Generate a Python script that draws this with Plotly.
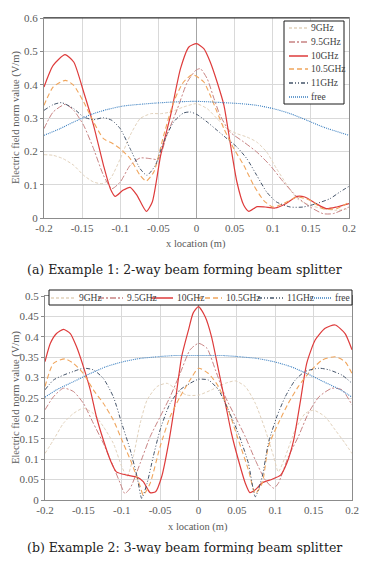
import plotly.graph_objects as go

# ---------------- data: (a) 2-way splitter ----------------
names = ["9GHz", "9.5GHz", "10GHz", "10.5GHz", "11GHz", "free"]

a_x_9 = [-0.2,-0.188,-0.175,-0.161,-0.148,-0.135,-0.124,-0.113,-0.1,-0.087,-0.074,-0.06,-0.047,-0.034,-0.017,0,0.014,0.027,0.04,0.053,0.066,0.079,0.092,0.105,0.119,0.132,0.149,0.166,0.184,0.2]
a_y_9 = [0.19,0.188,0.178,0.158,0.128,0.108,0.103,0.118,0.178,0.248,0.298,0.313,0.313,0.318,0.333,0.343,0.328,0.298,0.268,0.253,0.243,0.228,0.198,0.148,0.098,0.058,0.038,0.028,0.023,0.028]

a_x_95 = [-0.2,-0.188,-0.172,-0.161,-0.148,-0.135,-0.122,-0.111,-0.1,-0.087,-0.074,-0.06,-0.05,-0.039,-0.025,-0.012,-0.001,0.005,0.014,0.023,0.031,0.044,0.062,0.079,0.0965,0.114,0.132,0.149,0.166,0.179,0.2]
a_y_95 = [0.268,0.318,0.341,0.323,0.278,0.208,0.128,0.088,0.108,0.158,0.18,0.178,0.176,0.248,0.328,0.408,0.443,0.448,0.418,0.358,0.308,0.258,0.228,0.198,0.158,0.108,0.063,0.033,0.013,0.013,0.033]

a_x_10 = [-0.2,-0.188,-0.1724,-0.161,-0.148,-0.135,-0.122,-0.113,-0.1066,-0.0965,-0.087,-0.078,-0.0658,-0.058,-0.047,-0.034,-0.021,-0.010,0.0,0.0096,0.018,0.027,0.036,0.044,0.053,0.062,0.0686,0.0795,0.09,0.103,0.117,0.132,0.142,0.157,0.170,0.184,0.2]
a_y_10 = [0.393,0.458,0.49,0.468,0.378,0.278,0.158,0.088,0.065,0.083,0.092,0.068,0.02,0.048,0.188,0.308,0.448,0.513,0.523,0.508,0.468,0.408,0.338,0.228,0.108,0.038,0.02,0.034,0.033,0.03,0.043,0.065,0.063,0.043,0.028,0.033,0.043]

a_x_105 = [-0.2,-0.188,-0.172,-0.161,-0.148,-0.135,-0.122,-0.111,-0.1,-0.087,-0.074,-0.066,-0.056,-0.043,-0.03,-0.017,-0.005,0.0096,0.018,0.027,0.036,0.049,0.062,0.075,0.088,0.1,0.114,0.132,0.149,0.166,0.184,0.2]
a_y_105 = [0.338,0.393,0.413,0.398,0.348,0.288,0.238,0.225,0.208,0.178,0.128,0.111,0.138,0.248,0.348,0.408,0.43,0.408,0.368,0.318,0.268,0.208,0.158,0.098,0.053,0.033,0.043,0.063,0.053,0.028,0.028,0.048]

a_x_11 = [-0.2,-0.188,-0.177,-0.161,-0.148,-0.135,-0.122,-0.111,-0.1,-0.087,-0.074,-0.065,-0.054,-0.043,-0.03,-0.017,-0.008,0.001,0.014,0.027,0.04,0.053,0.066,0.079,0.092,0.105,0.123,0.14,0.157,0.175,0.188,0.2]
a_y_11 = [0.323,0.34,0.346,0.328,0.303,0.295,0.301,0.293,0.268,0.208,0.148,0.128,0.158,0.228,0.288,0.315,0.318,0.31,0.288,0.263,0.238,0.213,0.178,0.128,0.078,0.048,0.033,0.033,0.043,0.058,0.078,0.095]

a_x_free = [-0.2,-0.179,-0.161,-0.139,-0.118,-0.096,-0.074,-0.052,-0.03,0,0.036,0.058,0.079,0.101,0.123,0.145,0.166,0.2]
a_y_free = [0.248,0.268,0.288,0.31,0.325,0.336,0.341,0.345,0.348,0.35,0.346,0.343,0.338,0.328,0.313,0.293,0.273,0.248]

# ---------------- data: (b) 3-way splitter ----------------
b_x_9 = [-0.2,-0.189,-0.176,-0.163,-0.15,-0.137,-0.124,-0.111,-0.1,-0.093,-0.085,-0.076,-0.067,-0.054,-0.041,-0.028,-0.015,0,0.017,0.035,0.048,0.061,0.074,0.087,0.098,0.104,0.113,0.126,0.139,0.15,0.165,0.178,0.191,0.2]
b_y_9 = [0.114,0.147,0.188,0.212,0.225,0.212,0.18,0.139,0.082,0.057,0.106,0.188,0.245,0.278,0.286,0.27,0.257,0.257,0.27,0.286,0.292,0.278,0.237,0.172,0.106,0.069,0.106,0.172,0.212,0.22,0.204,0.172,0.139,0.114]

b_x_95 = [-0.2,-0.189,-0.176,-0.163,-0.15,-0.137,-0.124,-0.111,-0.102,-0.096,-0.089,-0.076,-0.063,-0.05,-0.037,-0.024,-0.011,0,0.011,0.022,0.035,0.048,0.061,0.074,0.087,0.098,0.104,0.117,0.13,0.143,0.157,0.174,0.187,0.2]
b_y_95 = [0.221,0.253,0.274,0.266,0.237,0.188,0.139,0.082,0.041,0.016,0.029,0.09,0.155,0.204,0.253,0.31,0.368,0.384,0.372,0.319,0.253,0.204,0.155,0.098,0.049,0.029,0.041,0.106,0.155,0.212,0.253,0.274,0.27,0.233]

b_x_10 = [-0.2,-0.193,-0.185,-0.176,-0.167,-0.159,-0.15,-0.141,-0.133,-0.124,-0.115,-0.107,-0.093,-0.08,-0.072,-0.063,-0.056,-0.048,-0.039,-0.03,-0.022,-0.013,-0.007,0,0.0087,0.017,0.026,0.035,0.043,0.052,0.061,0.067,0.074,0.083,0.096,0.107,0.115,0.124,0.133,0.141,0.152,0.165,0.178,0.191,0.2]
b_y_10 = [0.339,0.384,0.408,0.418,0.408,0.376,0.327,0.27,0.204,0.147,0.098,0.069,0.061,0.056,0.045,0.018,0.02,0.057,0.139,0.245,0.351,0.417,0.458,0.474,0.449,0.4,0.319,0.237,0.163,0.098,0.041,0.018,0.025,0.042,0.051,0.061,0.09,0.147,0.245,0.335,0.392,0.421,0.429,0.408,0.368]

b_x_105 = [-0.2,-0.189,-0.174,-0.163,-0.15,-0.137,-0.124,-0.111,-0.098,-0.087,-0.076,-0.072,-0.063,-0.05,-0.037,-0.024,-0.011,0,0.013,0.026,0.039,0.052,0.065,0.074,0.083,0.091,0.104,0.117,0.13,0.143,0.161,0.178,0.191,0.2]
b_y_105 = [0.278,0.335,0.346,0.335,0.31,0.27,0.237,0.196,0.139,0.09,0.033,0.012,0.041,0.131,0.204,0.253,0.294,0.323,0.31,0.278,0.22,0.147,0.074,0.016,0.041,0.131,0.188,0.237,0.278,0.31,0.343,0.351,0.339,0.31]

b_x_11 = [-0.2,-0.189,-0.176,-0.163,-0.15,-0.137,-0.124,-0.111,-0.1,-0.089,-0.08,-0.074,-0.067,-0.059,-0.05,-0.037,-0.024,-0.011,0,0.013,0.026,0.039,0.052,0.065,0.074,0.083,0.091,0.102,0.113,0.126,0.139,0.157,0.17,0.187,0.2]
b_y_11 = [0.27,0.294,0.306,0.315,0.323,0.319,0.298,0.253,0.188,0.123,0.057,0.004,0.041,0.106,0.172,0.237,0.27,0.286,0.296,0.294,0.27,0.22,0.163,0.09,0.008,0.057,0.139,0.204,0.253,0.294,0.315,0.323,0.319,0.306,0.286]

b_x_free = [-0.2,-0.185,-0.163,-0.141,-0.12,-0.098,-0.076,-0.054,-0.033,0,0.033,0.054,0.076,0.098,0.12,0.141,0.163,0.185,0.2]
b_y_free = [0.252,0.27,0.29,0.31,0.327,0.339,0.347,0.351,0.354,0.354,0.354,0.351,0.347,0.339,0.327,0.31,0.29,0.27,0.252]

x_ticks = [-0.2,-0.15,-0.1,-0.05,0,0.05,0.1,0.15,0.2]
x_ticktext = ["-0.2","-0.15","-0.1","-0.05","0","0.05","0.1","0.15","0.2"]
a_y_ticks = [0,0.1,0.2,0.3,0.4,0.5,0.6]
a_y_ticktext = ["0","0.1","0.2","0.3","0.4","0.5","0.6"]
b_y_ticks = [0,0.05,0.1,0.15,0.2,0.25,0.3,0.35,0.4,0.45,0.5]
b_y_ticktext = ["0","0.05","0.1","0.15","0.2","0.25","0.3","0.35","0.4","0.45","0.5"]

y_title = "Electric field norm value (V/m)"
x_title = "x location (m)"
caption_a = "(a) Example 1: 2-way beam forming beam splitter"
caption_b = "(b) Example 2: 3-way beam forming beam splitter"

# ---------------- styles ----------------
colors = ["#e2d2bc", "#c88383", "#de3b3b", "#f0a55c", "#44546a", "#3a7fc0"]
dashes = ["3px,2px", "6px,2px,2px,2px", "solid", "5px,3px", "4px,2px,1px,2px,1px,2px", "1px,1px"]
widths = [1, 1, 1.2, 1.1, 1, 1.1]

# page has an 8px body margin: figure occupies page px 8..359 x 8..554
OFF = 8
W, H = 351, 546
def px(x): return (x - OFF) / W
def py(y): return 1 - (y - OFF) / H

SERIF = "Liberation Serif, Times New Roman, serif"

fig = go.Figure()
a_series = [(a_x_9, a_y_9), (a_x_95, a_y_95), (a_x_10, a_y_10), (a_x_105, a_y_105), (a_x_11, a_y_11), (a_x_free, a_y_free)]
b_series = [(b_x_9, b_y_9), (b_x_95, b_y_95), (b_x_10, b_y_10), (b_x_105, b_y_105), (b_x_11, b_y_11), (b_x_free, b_y_free)]
for i, (xs, ys) in enumerate(a_series):
    fig.add_trace(go.Scatter(x=xs, y=ys, mode="lines", name=names[i], xaxis="x", yaxis="y",
                             line=dict(color=colors[i], dash=dashes[i], width=widths[i], shape="spline", smoothing=0.6),
                             showlegend=False))
for i, (xs, ys) in enumerate(b_series):
    fig.add_trace(go.Scatter(x=xs, y=ys, mode="lines", name=names[i], xaxis="x2", yaxis="y2",
                             line=dict(color=colors[i], dash=dashes[i], width=widths[i], shape="spline", smoothing=0.6),
                             showlegend=False))

tickfont = dict(family=SERIF, size=11, color="#595959")
titlefont = dict(family=SERIF, size=10.5, color="#595959")
common_x = dict(range=[-0.2, 0.2], tickvals=x_ticks, ticktext=x_ticktext, showgrid=True, gridcolor="#d9d9d9",
                zeroline=True, zerolinecolor="#a6a6a6", zerolinewidth=1, showline=True, linecolor="#8c8c8c",
                mirror=True, tickfont=tickfont, ticks="", automargin=False)
common_y = dict(showgrid=True, gridcolor="#d9d9d9", zeroline=False, showline=True, linecolor="#8c8c8c",
                mirror=True, tickfont=tickfont, ticks="outside", ticklen=3, tickcolor="#8c8c8c", automargin=False)

fig.update_layout(
    width=W, height=H, margin=dict(l=0, r=0, t=0, b=0, autoexpand=False),
    paper_bgcolor="white", plot_bgcolor="white", showlegend=False,
    xaxis=dict(domain=[px(44), px(349)], anchor="y", **common_x),
    yaxis=dict(domain=[py(218), py(18)], anchor="x", range=[0, 0.6], tickvals=a_y_ticks, ticktext=a_y_ticktext, **common_y),
    xaxis2=dict(domain=[px(45), px(352)], anchor="y2", **common_x),
    yaxis2=dict(domain=[py(500), py(296)], anchor="x2", range=[0, 0.5], tickvals=b_y_ticks, ticktext=b_y_ticktext, **common_y),
)

shapes = []
annotations = []
legfont = dict(family=SERIF, size=9.5, color="#404040")

# top border of plot (a) appears dark
shapes.append(dict(type="line", xref="paper", yref="paper", x0=px(44), x1=px(349), y0=py(18), y1=py(18),
                   line=dict(color="#333333", width=1), layer="above"))

# legend (a): vertical box
shapes.append(dict(type="rect", xref="paper", yref="paper", x0=px(284), x1=px(344), y0=py(104), y1=py(21),
                   line=dict(color="#1a1a1a", width=1), fillcolor="white", layer="above"))
rows_a = [28, 42, 56, 69, 83, 97]
for i, n in enumerate(names):
    shapes.append(dict(type="line", xref="paper", yref="paper", x0=px(289), x1=px(308), y0=py(rows_a[i]), y1=py(rows_a[i]),
                       line=dict(color=colors[i], dash=dashes[i], width=widths[i] + 0.3), layer="above"))
    annotations.append(dict(xref="paper", yref="paper", x=px(309), y=py(rows_a[i]), text=n, showarrow=False,
                            xanchor="left", yanchor="middle", font=legfont))

# legend (b): horizontal box
shapes.append(dict(type="rect", xref="paper", yref="paper", x0=px(49), x1=px(352), y0=py(305), y1=py(290),
                   line=dict(color="#1a1a1a", width=1), fillcolor="white", layer="above"))
seg_b = [(51, 75), (98, 123), (151, 173), (197, 222), (258, 283), (308, 331)]
txt_b = [77, 125, 175, 224, 285, 333]
for i, n in enumerate(names):
    shapes.append(dict(type="line", xref="paper", yref="paper", x0=px(seg_b[i][0]), x1=px(seg_b[i][1]), y0=py(298), y1=py(298),
                       line=dict(color=colors[i], dash=dashes[i], width=widths[i] + 0.3), layer="above"))
    annotations.append(dict(xref="paper", yref="paper", x=px(txt_b[i]), y=py(298), text=n, showarrow=False,
                            xanchor="left", yanchor="middle", font=legfont))

# axis titles
annotations.append(dict(xref="paper", yref="paper", x=px(196), y=py(244), text=x_title, showarrow=False,
                        xanchor="center", yanchor="middle", font=titlefont))
annotations.append(dict(xref="paper", yref="paper", x=px(198), y=py(527), text=x_title, showarrow=False,
                        xanchor="center", yanchor="middle", font=titlefont))
annotations.append(dict(xref="paper", yref="paper", x=px(16), y=py(118), text=y_title, showarrow=False, textangle=-90,
                        xanchor="center", yanchor="middle", font=titlefont))
annotations.append(dict(xref="paper", yref="paper", x=px(16), y=py(398), text=y_title, showarrow=False, textangle=-90,
                        xanchor="center", yanchor="middle", font=titlefont))

capfont = dict(family="DejaVu Serif", size=12.5, color="#222222")
annotations.append(dict(xref="paper", yref="paper", x=px(184), y=py(269), text=caption_a, showarrow=False,
                        xanchor="center", yanchor="middle", font=capfont))
annotations.append(dict(xref="paper", yref="paper", x=px(184), y=py(547), text=caption_b, showarrow=False,
                        xanchor="center", yanchor="middle", font=capfont))

fig.update_layout(shapes=shapes, annotations=annotations)
fig.write_html("out.html")
